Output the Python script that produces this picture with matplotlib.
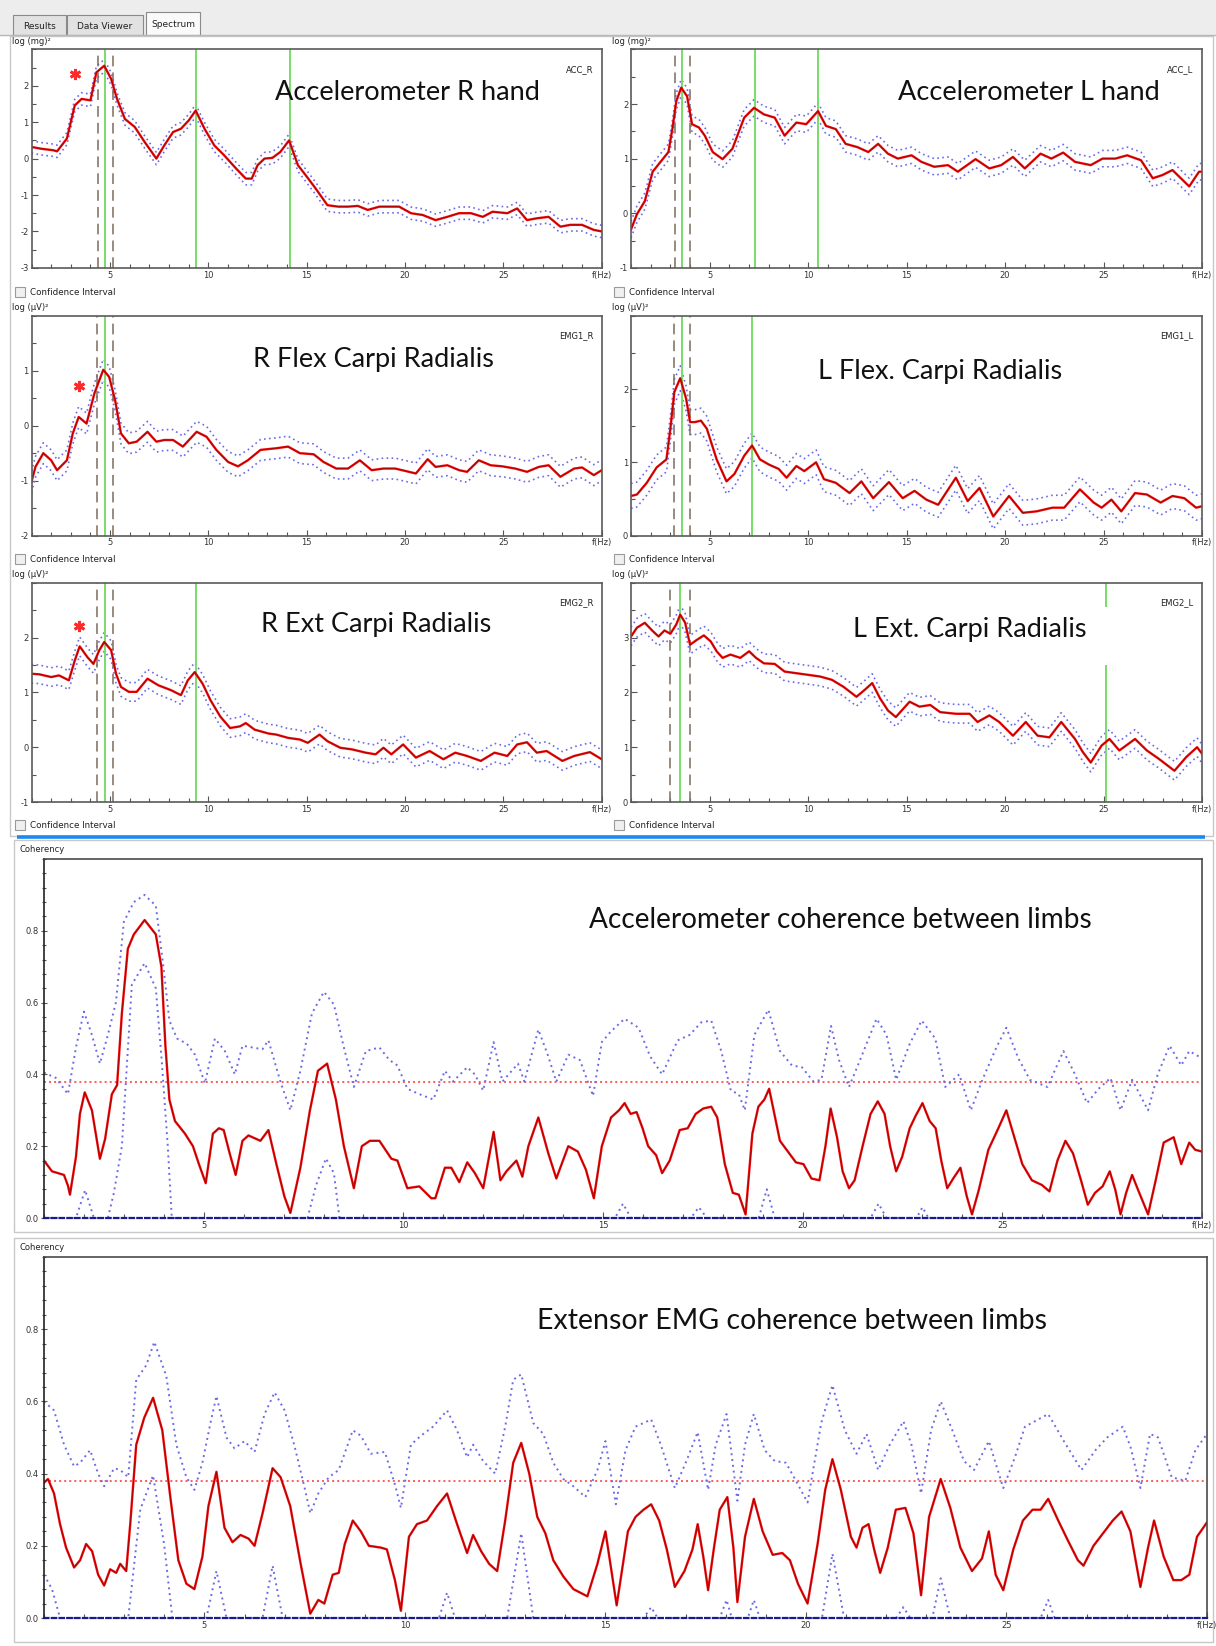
import numpy as np
import matplotlib
matplotlib.use('Agg')
import matplotlib.pyplot as plt
from matplotlib.patches import Rectangle
from matplotlib.ticker import MultipleLocator

plt.rcParams['axes.unicode_minus'] = False

W, H = 1216, 1646

# ---------------- spectra: (frequency Hz, log power)
acc_r = [(1.0, 0.32), (1.5, 0.27), (2.1, 0.23), (2.3, 0.2), (2.8, 0.55), (3.2, 1.46), (3.55, 1.64),
         (4.0, 1.6), (4.3, 2.37), (4.7, 2.55), (5.05, 2.19), (5.35, 1.64), (5.75, 1.09), (6.25, 0.87),
         (6.75, 0.46), (7.35, 0.0), (7.75, 0.36), (8.2, 0.73), (8.6, 0.82), (9.0, 1.05), (9.35, 1.32),
         (9.8, 0.82), (10.3, 0.36), (10.8, 0.09), (11.4, -0.27), (11.9, -0.55), (12.2, -0.55),
         (12.5, -0.18), (12.85, 0.0), (13.25, 0.02), (13.65, 0.18), (14.1, 0.5), (14.55, -0.18),
         (14.95, -0.46), (15.45, -0.82), (16.05, -1.28), (16.6, -1.32), (17.1, -1.32), (17.6, -1.3),
         (18.1, -1.41), (18.7, -1.32), (19.2, -1.32), (19.7, -1.32), (20.3, -1.5), (20.9, -1.55),
         (21.55, -1.69), (22.15, -1.6), (22.75, -1.5), (23.35, -1.5), (23.95, -1.6), (24.45, -1.46),
         (25.2, -1.5), (25.7, -1.37), (26.2, -1.69), (26.7, -1.64), (27.3, -1.6), (27.9, -1.87),
         (28.4, -1.82), (29.0, -1.82), (29.6, -1.96), (30.0, -2.0)]
acc_l = [(1.0, -0.3), (1.3, -0.02), (1.7, 0.22), (2.1, 0.76), (2.5, 0.94), (2.9, 1.12), (3.1, 1.54),
         (3.3, 2.05), (3.55, 2.3), (3.85, 2.14), (4.1, 1.63), (4.45, 1.57), (4.75, 1.42), (5.15, 1.12),
         (5.65, 0.99), (6.15, 1.18), (6.75, 1.75), (7.25, 1.93), (7.75, 1.81), (8.3, 1.75), (8.8, 1.42),
         (9.4, 1.66), (9.9, 1.63), (10.5, 1.87), (10.9, 1.6), (11.4, 1.54), (11.9, 1.27), (12.5, 1.21),
         (13.05, 1.12), (13.55, 1.27), (14.05, 1.09), (14.55, 1.0), (15.25, 1.06), (15.75, 0.94),
         (16.4, 0.85), (17.1, 0.88), (17.6, 0.76), (18.5, 0.99), (19.2, 0.82), (19.8, 0.88),
         (20.4, 1.03), (21.0, 0.82), (21.8, 1.09), (22.35, 1.0), (22.95, 1.11), (23.55, 0.94),
         (24.35, 0.88), (24.95, 1.0), (25.6, 1.0), (26.2, 1.06), (26.9, 0.97), (27.5, 0.64),
         (28.0, 0.7), (28.5, 0.79), (29.35, 0.49), (29.85, 0.76), (30.0, 0.76)]
emg1_r = [(1.0, -1.02), (1.2, -0.75), (1.6, -0.5), (2.0, -0.63), (2.3, -0.81), (2.8, -0.63),
          (3.1, -0.14), (3.4, 0.16), (3.8, 0.04), (4.2, 0.59), (4.65, 1.02), (4.95, 0.89), (5.25, 0.47),
          (5.55, -0.14), (5.95, -0.32), (6.35, -0.29), (6.9, -0.11), (7.35, -0.29), (7.75, -0.26),
          (8.2, -0.26), (8.7, -0.38), (9.4, -0.11), (9.9, -0.2), (10.4, -0.44), (11.0, -0.66),
          (11.5, -0.74), (12.0, -0.63), (12.65, -0.44), (13.45, -0.41), (14.05, -0.38), (14.65, -0.5),
          (15.35, -0.52), (15.85, -0.66), (16.5, -0.78), (17.1, -0.78), (17.7, -0.63), (18.3, -0.81),
          (18.9, -0.78), (19.5, -0.78), (20.55, -0.87), (21.15, -0.61), (21.55, -0.75), (22.15, -0.72),
          (22.75, -0.81), (23.15, -0.84), (23.75, -0.63), (24.35, -0.72), (24.95, -0.74), (25.6, -0.78),
          (26.2, -0.84), (26.8, -0.75), (27.3, -0.72), (27.9, -0.93), (28.6, -0.78), (29.0, -0.76),
          (29.6, -0.9), (30.0, -0.81)]
emg1_l = [(1.0, 0.54), (1.3, 0.56), (1.8, 0.72), (2.3, 0.93), (2.8, 1.04), (3.0, 1.46), (3.2, 1.96),
          (3.5, 2.15), (3.8, 1.87), (4.0, 1.55), (4.25, 1.55), (4.55, 1.57), (4.85, 1.46), (5.35, 1.04),
          (5.85, 0.74), (6.25, 0.84), (6.75, 1.09), (7.15, 1.23), (7.55, 1.04), (8.0, 0.97), (8.5, 0.91),
          (8.9, 0.79), (9.4, 0.95), (9.8, 0.88), (10.4, 1.0), (10.8, 0.77), (11.4, 0.72), (12.1, 0.58),
          (12.7, 0.74), (13.3, 0.51), (14.1, 0.73), (14.8, 0.51), (15.4, 0.61), (16.0, 0.49),
          (16.6, 0.42), (17.5, 0.79), (18.1, 0.47), (18.7, 0.65), (19.4, 0.26), (20.2, 0.54),
          (20.9, 0.31), (21.6, 0.33), (22.4, 0.38), (23.0, 0.38), (23.8, 0.63), (24.5, 0.45),
          (24.9, 0.38), (25.4, 0.49), (25.9, 0.33), (26.6, 0.58), (27.2, 0.56), (27.9, 0.45),
          (28.5, 0.54), (29.1, 0.51), (29.7, 0.38), (30.0, 0.4)]
emg2_r = [(1.0, 1.34), (1.4, 1.33), (2.0, 1.28), (2.4, 1.31), (2.9, 1.22), (3.2, 1.58), (3.45, 1.84),
          (3.85, 1.64), (4.15, 1.52), (4.45, 1.77), (4.7, 1.92), (5.05, 1.77), (5.3, 1.34), (5.55, 1.1),
          (5.95, 1.01), (6.35, 1.01), (6.9, 1.25), (7.45, 1.13), (8.1, 1.04), (8.6, 0.95), (8.95, 1.22),
          (9.3, 1.37), (9.7, 1.16), (10.1, 0.86), (10.6, 0.56), (11.1, 0.35), (11.6, 0.38), (11.9, 0.44),
          (12.35, 0.32), (13.05, 0.25), (13.45, 0.23), (14.05, 0.17), (14.65, 0.14), (15.05, 0.08),
          (15.65, 0.23), (16.05, 0.11), (16.7, -0.01), (17.3, -0.04), (18.0, -0.1), (18.5, -0.13),
          (18.9, -0.01), (19.3, -0.13), (19.9, 0.05), (20.55, -0.19), (21.25, -0.07), (21.95, -0.22),
          (22.55, -0.1), (23.15, -0.16), (23.85, -0.25), (24.55, -0.1), (25.2, -0.16), (25.7, 0.05),
          (26.2, 0.09), (26.7, -0.1), (27.2, -0.07), (28.0, -0.25), (28.6, -0.16), (29.4, -0.09),
          (30.0, -0.22)]
emg2_l = [(1.0, 3.02), (1.3, 3.18), (1.7, 3.27), (2.1, 3.12), (2.4, 3.02), (2.7, 3.13), (3.0, 3.07),
          (3.3, 3.24), (3.5, 3.42), (3.75, 3.27), (4.0, 2.87), (4.35, 2.96), (4.7, 3.04), (5.05, 2.93),
          (5.35, 2.75), (5.65, 2.63), (6.05, 2.69), (6.55, 2.63), (7.0, 2.75), (7.35, 2.63), (7.75, 2.53),
          (8.3, 2.52), (8.8, 2.38), (9.4, 2.35), (10.0, 2.32), (10.6, 2.29), (11.2, 2.23), (11.8, 2.1),
          (12.45, 1.92), (12.85, 2.04), (13.25, 2.17), (13.65, 1.89), (14.05, 1.67), (14.45, 1.55),
          (14.85, 1.71), (15.15, 1.83), (15.65, 1.74), (16.2, 1.77), (16.7, 1.64), (17.5, 1.61),
          (18.2, 1.61), (18.6, 1.46), (19.2, 1.58), (19.7, 1.46), (20.4, 1.21), (21.05, 1.46),
          (21.65, 1.21), (22.25, 1.18), (22.85, 1.46), (23.55, 1.15), (23.95, 0.91), (24.35, 0.72),
          (24.9, 1.03), (25.3, 1.15), (25.8, 0.94), (26.6, 1.15), (27.2, 0.94), (27.8, 0.79),
          (28.6, 0.57), (29.2, 0.82), (29.75, 1.0), (30.0, 0.88)]

# half-width of the confidence band (log units)
acc_r_ci, acc_l_ci = 0.17, 0.15
emg1_r_ci, emg1_l_ci = 0.19, 0.17
emg2_r_ci, emg2_l_ci = 0.17, 0.17

# peak (green) and band-edge (dashed) frequencies
acc_r_peaks, acc_r_band = [4.73, 9.38, 14.14], [4.36, 5.16]
acc_l_peaks, acc_l_band = [3.6, 7.3, 10.5], [3.24, 3.98]
emg1_r_peaks, emg1_r_band = [4.73], [4.33, 5.16]
emg1_l_peaks, emg1_l_band = [3.6, 7.14], [3.2, 4.0]
emg2_r_peaks, emg2_r_band = [4.73, 9.38], [4.33, 5.16]
emg2_l_peaks, emg2_l_band = [3.5, 25.1], [2.97, 4.0]
emg2_l_gap = {25.1: (2.5, 3.55)}   # part of that marker hidden in the screenshot

# red asterisks
acc_r_star, emg1_r_star, emg2_r_star = (3.22, 2.33), (3.42, 0.72), (3.42, 2.22)

# ---------------- coherence between limbs
coh_acc = [(1.0, 0.16), (1.2, 0.13), (1.35, 0.125), (1.5, 0.12), (1.6, 0.09), (1.65, 0.065), (1.8, 0.17),
           (1.9, 0.29), (2.02, 0.35), (2.2, 0.30), (2.4, 0.165), (2.53, 0.22), (2.7, 0.345), (2.83, 0.37),
           (2.95, 0.57), (3.1, 0.75), (3.25, 0.79), (3.52, 0.83), (3.8, 0.79), (3.94, 0.70), (4.04, 0.48),
           (4.14, 0.33), (4.28, 0.27), (4.53, 0.235), (4.73, 0.20), (4.88, 0.15), (5.05, 0.097),
           (5.23, 0.235), (5.38, 0.25), (5.5, 0.245), (5.65, 0.18), (5.8, 0.12), (5.97, 0.215),
           (6.12, 0.23), (6.42, 0.215), (6.62, 0.245), (6.82, 0.15), (7.02, 0.06), (7.17, 0.014),
           (7.42, 0.14), (7.66, 0.30), (7.86, 0.41), (8.09, 0.43), (8.31, 0.33), (8.51, 0.20),
           (8.76, 0.083), (8.96, 0.20), (9.16, 0.215), (9.4, 0.215), (9.7, 0.165), (9.85, 0.16),
           (10.1, 0.083), (10.4, 0.088), (10.7, 0.055), (10.8, 0.055), (11.04, 0.14), (11.2, 0.14),
           (11.4, 0.10), (11.6, 0.155), (11.79, 0.125), (12.0, 0.083), (12.26, 0.24), (12.43, 0.105),
           (12.58, 0.13), (12.83, 0.16), (12.98, 0.115), (13.13, 0.20), (13.38, 0.28), (13.63, 0.18),
           (13.83, 0.11), (14.13, 0.20), (14.37, 0.185), (14.57, 0.135), (14.77, 0.055), (14.97, 0.20),
           (15.2, 0.28), (15.4, 0.30), (15.54, 0.32), (15.69, 0.29), (15.84, 0.295), (15.99, 0.25),
           (16.13, 0.20), (16.33, 0.175), (16.48, 0.125), (16.67, 0.16), (16.92, 0.245), (17.12, 0.25),
           (17.32, 0.29), (17.51, 0.305), (17.71, 0.31), (17.86, 0.28), (18.05, 0.15), (18.25, 0.07),
           (18.4, 0.065), (18.57, 0.01), (18.74, 0.235), (18.89, 0.31), (19.04, 0.33), (19.16, 0.36),
           (19.29, 0.29), (19.43, 0.215), (19.63, 0.185), (19.83, 0.155), (20.02, 0.15), (20.22, 0.11),
           (20.42, 0.105), (20.57, 0.20), (20.7, 0.305), (20.86, 0.225), (21.0, 0.13), (21.16, 0.083),
           (21.3, 0.105), (21.5, 0.20), (21.7, 0.29), (21.88, 0.325), (22.05, 0.29), (22.19, 0.20),
           (22.34, 0.13), (22.49, 0.17), (22.68, 0.25), (22.83, 0.285), (23.0, 0.32), (23.18, 0.27),
           (23.33, 0.25), (23.47, 0.16), (23.62, 0.083), (23.77, 0.11), (23.95, 0.14), (24.11, 0.06),
           (24.24, 0.01), (24.41, 0.078), (24.65, 0.19), (24.9, 0.25), (25.1, 0.30), (25.3, 0.225),
           (25.5, 0.15), (25.74, 0.105), (25.99, 0.092), (26.18, 0.074), (26.38, 0.16), (26.58, 0.215),
           (26.77, 0.18), (26.97, 0.105), (27.14, 0.037), (27.32, 0.07), (27.51, 0.088), (27.69, 0.13),
           (27.83, 0.078), (27.96, 0.01), (28.1, 0.07), (28.25, 0.12), (28.4, 0.078), (28.65, 0.01),
           (28.84, 0.105), (29.04, 0.21), (29.29, 0.225), (29.48, 0.15), (29.68, 0.21), (29.83, 0.19),
           (30.0, 0.185)]
coh_acc_hi = [(1.0, 0.405), (1.3, 0.39), (1.6, 0.345), (1.8, 0.475), (2.0, 0.575), (2.2, 0.51), (2.4, 0.43),
              (2.6, 0.51), (2.8, 0.60), (3.0, 0.825), (3.25, 0.88), (3.52, 0.90), (3.8, 0.87), (3.99, 0.70),
              (4.14, 0.55), (4.33, 0.50), (4.58, 0.485), (4.78, 0.455), (5.03, 0.375), (5.28, 0.50),
              (5.53, 0.465), (5.78, 0.40), (5.97, 0.48), (6.22, 0.475), (6.47, 0.47), (6.62, 0.495),
              (6.92, 0.38), (7.17, 0.30), (7.42, 0.41), (7.71, 0.57), (8.01, 0.63), (8.26, 0.595),
              (8.51, 0.475), (8.76, 0.365), (9.06, 0.465), (9.4, 0.475), (9.65, 0.44), (9.85, 0.425),
              (10.1, 0.36), (10.4, 0.345), (10.75, 0.33), (11.04, 0.41), (11.24, 0.38), (11.6, 0.42),
              (11.79, 0.40), (12.0, 0.355), (12.26, 0.49), (12.48, 0.38), (12.87, 0.43), (13.03, 0.38),
              (13.38, 0.525), (13.63, 0.45), (13.83, 0.38), (14.13, 0.455), (14.42, 0.44), (14.75, 0.34),
              (14.97, 0.49), (15.2, 0.52), (15.54, 0.555), (15.89, 0.53), (16.18, 0.45), (16.48, 0.40),
              (16.87, 0.495), (17.17, 0.51), (17.46, 0.545), (17.71, 0.55), (17.96, 0.465), (18.2, 0.355),
              (18.4, 0.345), (18.55, 0.30), (18.79, 0.51), (19.14, 0.58), (19.43, 0.465), (19.73, 0.425),
              (19.98, 0.42), (20.27, 0.38), (20.47, 0.385), (20.71, 0.535), (20.91, 0.44), (21.16, 0.365),
              (21.4, 0.43), (21.85, 0.555), (22.1, 0.51), (22.34, 0.385), (22.68, 0.485), (22.98, 0.55),
              (23.32, 0.50), (23.57, 0.365), (23.92, 0.40), (24.21, 0.30), (24.5, 0.385), (24.85, 0.475),
              (25.1, 0.53), (25.4, 0.445), (25.69, 0.385), (26.13, 0.365), (26.53, 0.465), (26.82, 0.40),
              (27.12, 0.32), (27.41, 0.36), (27.71, 0.39), (27.96, 0.30), (28.25, 0.385), (28.65, 0.30),
              (28.89, 0.40), (29.19, 0.48), (29.48, 0.425), (29.68, 0.465), (30.0, 0.445)]
coh_acc_lo = [(1.0, 0.0), (1.8, 0.0), (2.03, 0.078), (2.25, 0.0), (2.6, 0.0), (2.75, 0.07), (2.95, 0.20),
              (3.2, 0.65), (3.52, 0.71), (3.8, 0.64), (3.94, 0.45), (4.1, 0.20), (4.2, 0.0), (7.6, 0.0),
              (7.81, 0.09), (8.06, 0.166), (8.26, 0.125), (8.4, 0.0), (15.3, 0.0), (15.5, 0.04), (15.7, 0.0),
              (17.2, 0.0), (17.4, 0.03), (17.6, 0.0), (18.9, 0.0), (19.1, 0.08), (19.3, 0.0), (21.7, 0.0),
              (21.9, 0.04), (22.1, 0.0), (22.85, 0.0), (23.0, 0.03), (23.15, 0.0), (30.0, 0.0)]

coh_ext = [(1.0, 0.375), (1.1, 0.385), (1.25, 0.345), (1.4, 0.26), (1.55, 0.195), (1.75, 0.14), (1.9, 0.16),
           (2.05, 0.205), (2.2, 0.185), (2.35, 0.12), (2.5, 0.09), (2.65, 0.135), (2.8, 0.125), (2.9, 0.15),
           (3.05, 0.13), (3.15, 0.26), (3.3, 0.48), (3.5, 0.555), (3.72, 0.61), (3.95, 0.52), (4.15, 0.335),
           (4.35, 0.16), (4.55, 0.095), (4.75, 0.08), (4.95, 0.17), (5.1, 0.31), (5.3, 0.405), (5.5, 0.25),
           (5.7, 0.21), (5.9, 0.23), (6.1, 0.22), (6.25, 0.20), (6.45, 0.29), (6.7, 0.415), (6.9, 0.39),
           (7.14, 0.31), (7.4, 0.15), (7.64, 0.012), (7.84, 0.05), (7.99, 0.04), (8.2, 0.12), (8.35, 0.125),
           (8.5, 0.205), (8.7, 0.27), (8.9, 0.24), (9.1, 0.20), (9.4, 0.195), (9.55, 0.19), (9.75, 0.105),
           (9.9, 0.02), (10.1, 0.225), (10.3, 0.26), (10.55, 0.27), (10.8, 0.31), (11.05, 0.345),
           (11.3, 0.26), (11.55, 0.18), (11.7, 0.23), (11.9, 0.185), (12.1, 0.15), (12.3, 0.13),
           (12.5, 0.27), (12.7, 0.43), (12.9, 0.485), (13.1, 0.40), (13.3, 0.28), (13.5, 0.235),
           (13.7, 0.16), (13.95, 0.115), (14.2, 0.08), (14.55, 0.06), (14.8, 0.15), (15.0, 0.24),
           (15.15, 0.13), (15.28, 0.035), (15.56, 0.24), (15.75, 0.28), (15.95, 0.30), (16.14, 0.315),
           (16.34, 0.27), (16.53, 0.19), (16.73, 0.086), (16.97, 0.13), (17.17, 0.19), (17.3, 0.26),
           (17.44, 0.17), (17.56, 0.077), (17.7, 0.19), (17.85, 0.30), (18.04, 0.335), (18.19, 0.195),
           (18.29, 0.044), (18.48, 0.225), (18.7, 0.33), (18.92, 0.24), (19.17, 0.175), (19.41, 0.18),
           (19.6, 0.16), (19.8, 0.095), (20.04, 0.04), (20.29, 0.205), (20.48, 0.355), (20.66, 0.44),
           (20.87, 0.355), (21.12, 0.225), (21.26, 0.195), (21.41, 0.25), (21.56, 0.26), (21.7, 0.19),
           (21.85, 0.125), (22.04, 0.195), (22.24, 0.30), (22.48, 0.305), (22.68, 0.235), (22.87, 0.063),
           (23.07, 0.28), (23.36, 0.385), (23.6, 0.305), (23.85, 0.195), (24.14, 0.13), (24.39, 0.165),
           (24.56, 0.24), (24.73, 0.12), (24.92, 0.077), (25.17, 0.19), (25.41, 0.27), (25.65, 0.30),
           (25.85, 0.30), (26.04, 0.33), (26.29, 0.27), (26.53, 0.215), (26.78, 0.16), (26.92, 0.145),
           (27.17, 0.20), (27.41, 0.235), (27.65, 0.27), (27.87, 0.295), (28.09, 0.24), (28.34, 0.086),
           (28.53, 0.195), (28.68, 0.27), (28.92, 0.17), (29.16, 0.105), (29.36, 0.105), (29.56, 0.12),
           (29.75, 0.225), (30.0, 0.265)]
coh_ext_hi = [(1.0, 0.60), (1.25, 0.575), (1.5, 0.48), (1.75, 0.42), (1.9, 0.43), (2.15, 0.465), (2.35, 0.40),
              (2.5, 0.365), (2.75, 0.415), (2.9, 0.41), (3.1, 0.39), (3.3, 0.66), (3.55, 0.70), (3.75, 0.765),
              (4.05, 0.67), (4.3, 0.48), (4.55, 0.39), (4.75, 0.355), (4.95, 0.43), (5.15, 0.54), (5.3, 0.615),
              (5.55, 0.50), (5.75, 0.47), (6.0, 0.49), (6.25, 0.46), (6.5, 0.565), (6.75, 0.625), (7.0, 0.575),
              (7.25, 0.475), (7.5, 0.36), (7.64, 0.29), (7.84, 0.345), (8.1, 0.39), (8.35, 0.41), (8.7, 0.52),
              (8.9, 0.505), (9.15, 0.455), (9.5, 0.46), (9.75, 0.37), (9.9, 0.305), (10.15, 0.48),
              (10.4, 0.505), (10.7, 0.53), (11.05, 0.575), (11.3, 0.52), (11.55, 0.445), (11.7, 0.48),
              (11.95, 0.435), (12.25, 0.40), (12.5, 0.53), (12.7, 0.66), (12.9, 0.675), (13.2, 0.54),
              (13.45, 0.51), (13.7, 0.43), (13.95, 0.385), (14.2, 0.365), (14.5, 0.335), (14.8, 0.41),
              (15.0, 0.49), (15.26, 0.315), (15.5, 0.465), (15.75, 0.53), (16.14, 0.55), (16.38, 0.48),
              (16.73, 0.36), (17.02, 0.435), (17.3, 0.515), (17.56, 0.355), (17.75, 0.48), (18.02, 0.565),
              (18.29, 0.325), (18.48, 0.48), (18.7, 0.565), (18.97, 0.465), (19.22, 0.435), (19.5, 0.43),
              (19.8, 0.37), (20.04, 0.32), (20.38, 0.54), (20.66, 0.645), (20.97, 0.52), (21.26, 0.455),
              (21.51, 0.51), (21.8, 0.41), (22.09, 0.48), (22.43, 0.545), (22.63, 0.48), (22.87, 0.345),
              (23.12, 0.52), (23.36, 0.60), (23.65, 0.52), (23.94, 0.435), (24.19, 0.41), (24.56, 0.49),
              (24.92, 0.36), (25.21, 0.445), (25.46, 0.53), (26.04, 0.565), (26.43, 0.49), (26.87, 0.41),
              (27.22, 0.465), (27.51, 0.50), (27.9, 0.53), (28.09, 0.475), (28.34, 0.36), (28.58, 0.51),
              (28.78, 0.50), (29.12, 0.39), (29.46, 0.38), (29.71, 0.465), (30.0, 0.51)]
coh_ext_lo = [(1.0, 0.12), (1.2, 0.08), (1.4, 0.0), (3.1, 0.0), (3.2, 0.10), (3.4, 0.30), (3.72, 0.395),
              (4.0, 0.20), (4.2, 0.0), (5.05, 0.0), (5.3, 0.13), (5.55, 0.0), (6.45, 0.0), (6.7, 0.145),
              (6.95, 0.0), (10.85, 0.0), (11.05, 0.07), (11.25, 0.0), (12.55, 0.0), (12.9, 0.235), (13.2, 0.0),
              (15.95, 0.0), (16.14, 0.03), (16.3, 0.0), (17.85, 0.0), (18.02, 0.05), (18.15, 0.0), (18.55, 0.0),
              (18.7, 0.05), (18.85, 0.0), (20.4, 0.0), (20.66, 0.178), (20.95, 0.0), (22.25, 0.0), (22.43, 0.03),
              (22.6, 0.0), (23.15, 0.0), (23.36, 0.11), (23.6, 0.0), (25.85, 0.0), (26.04, 0.05), (26.2, 0.0),
              (30.0, 0.0)]
coh_threshold = 0.38

RED, DARK = '#ee0a0a', '#7a0000'
CIBLUE = '#6b6be8'
GREEN = '#79dc6a'
DASH = '#7d6c5a'
TICKC = '#333333'
TITLE_FONT = ['Lato', 'DejaVu Sans']

fig = plt.figure(figsize=(W / 100, H / 100), dpi=100)
fig.patch.set_facecolor('white')


def frac(l, t, r, b):
    return [l / W, 1 - b / H, (r - l) / W, (b - t) / H]


# background decorations in pixel coordinates
bg = fig.add_axes([0, 0, 1, 1], zorder=-5)
bg.set_xlim(0, W)
bg.set_ylim(H, 0)
bg.axis('off')
bg.add_patch(Rectangle((0, 0), W, 35, color='#ededed'))
bg.plot([0, W], [35, 35], color='#b8b8b8', lw=1)
for x0, x1, lab, active in [(13, 66, 'Results', False), (67, 143, 'Data Viewer', False),
                            (146, 200, 'Spectrum', True)]:
    top = 12 if active else 15
    bg.add_patch(Rectangle((x0, top), x1 - x0, 35 - top, facecolor='#fafafa' if active else '#e2e2e2',
                           edgecolor='#8a8a8a', lw=0.8))
    bg.text((x0 + x1) / 2, (top + 35) / 2 + 1, lab, ha='center', va='center', fontsize=6.5, color='#222')
bg.add_patch(Rectangle((10, 36), 1203, 800, facecolor='none', edgecolor='#c8c8c8', lw=1))
bg.add_patch(Rectangle((14, 840), 1199, 392, facecolor='none', edgecolor='#c8c8c8', lw=1))
bg.add_patch(Rectangle((14, 1238), 1199, 404, facecolor='none', edgecolor='#c8c8c8', lw=1))
bg.plot([17, 1205], [837, 837], color='#1e88f0', lw=2.6, solid_capstyle='butt')
for cy in [292, 559, 825]:
    for cx in [15, 614]:
        bg.add_patch(Rectangle((cx, cy - 5), 10, 10, facecolor='#f0f0f0', edgecolor='#9a9a9a', lw=0.8))
        bg.text(cx + 15, cy, 'Confidence Interval', va='center', fontsize=6.3, color='#222')


def style_ticks(ax):
    ax.tick_params(which='both', direction='in', colors='#555', labelcolor=TICKC, labelsize=6,
                   top=False, right=False, pad=2)
    ax.tick_params(which='major', length=4, width=0.8)
    ax.tick_params(which='minor', length=3, width=0.8)
    ax.set_xlim(1, 30)
    ax.set_xticks([5, 10, 15, 20, 25, 30])
    ax.set_xticklabels(['5', '10', '15', '20', '25', 'f(Hz)'])
    ax.xaxis.set_minor_locator(MultipleLocator(1))


def draw_curve(ax, f, v):
    ax.plot(f, v, color=RED, lw=1.7)
    ax.plot(f, v, color=DARK, lw=0.45, alpha=0.8)


def spectrum(box, data, ci, ylim, ylab, chan, peaks, band, star=None, gaps=None):
    ax = fig.add_axes(frac(*box))
    f, v = np.array(data).T
    ax.plot(f, v + ci, ls=(0, (1, 2)), color=CIBLUE, lw=1.2)
    ax.plot(f, v - ci, ls=(0, (1, 2)), color=CIBLUE, lw=1.2)
    for p in band:
        ax.axvline(p, color=DASH, lw=1.1, ls=(0, (7, 4)))
    for p in peaks:
        if gaps and p in gaps:
            ax.vlines(p, ylim[0], gaps[p][0], color=GREEN, lw=1.4)
            ax.vlines(p, gaps[p][1], ylim[1], color=GREEN, lw=1.4)
        else:
            ax.axvline(p, color=GREEN, lw=1.4)
    draw_curve(ax, f, v)
    if star:
        ax.plot(*star, marker=(6, 2, 0), color='#ff2a2a', ms=8, mew=2.0)
    ax.set_ylim(*ylim)
    ax.set_yticks(np.arange(ylim[0], ylim[1]))
    ax.yaxis.set_minor_locator(MultipleLocator(0.5))
    style_ticks(ax)
    for s in ax.spines.values():
        s.set_color('#5a5a5a')
        s.set_linewidth(1.2)
    ax.text(0.985, 0.93, chan, transform=ax.transAxes, ha='right', va='top', fontsize=6, color='#222')
    fig.text((box[0] - 19) / W, 1 - (box[1] - 8) / H, ylab, fontsize=6, color='#222', va='center')
    return ax


L_BOX = [(31.5, 49.4, 601.7, 267.8), (31.5, 316, 601.7, 535.5), (31.5, 582.8, 601.7, 802)]
R_BOX = [(631, 49.4, 1202, 267.8), (631, 316, 1202, 535.5), (631, 582.8, 1202, 802)]

spectrum(L_BOX[0], acc_r, acc_r_ci, (-3, 3), 'log (mg)²', 'ACC_R', acc_r_peaks, acc_r_band, acc_r_star)
spectrum(R_BOX[0], acc_l, acc_l_ci, (-1, 3), 'log (mg)²', 'ACC_L', acc_l_peaks, acc_l_band)
spectrum(L_BOX[1], emg1_r, emg1_r_ci, (-2, 2), 'log (μV)²', 'EMG1_R', emg1_r_peaks, emg1_r_band, emg1_r_star)
spectrum(R_BOX[1], emg1_l, emg1_l_ci, (0, 3), 'log (μV)²', 'EMG1_L', emg1_l_peaks, emg1_l_band)
spectrum(L_BOX[2], emg2_r, emg2_r_ci, (-1, 3), 'log (μV)²', 'EMG2_R', emg2_r_peaks, emg2_r_band, emg2_r_star)
spectrum(R_BOX[2], emg2_l, emg2_l_ci, (0, 4), 'log (μV)²', 'EMG2_L', emg2_l_peaks, emg2_l_band,
         gaps=emg2_l_gap)


def coherence(box, data, hi, lo):
    ax = fig.add_axes(frac(*box))
    f, v = np.array(data).T
    fh, vh = np.array(hi).T
    fl, vl = np.array(lo).T
    ax.axhline(coh_threshold, color='#ff5a5a', ls=(0, (1, 1.6)), lw=1.4)
    ax.plot(fh, vh, ls=(0, (1, 2)), color=CIBLUE, lw=1.4)
    ax.plot(fl, vl, ls=(0, (1, 2)), color=CIBLUE, lw=1.4, clip_on=False)
    draw_curve(ax, f, v)
    ax.set_ylim(0, 1)
    ax.set_yticks([0, 0.2, 0.4, 0.6, 0.8])
    ax.set_yticklabels(['0.0', '0.2', '0.4', '0.6', '0.8'])
    ax.yaxis.set_minor_locator(MultipleLocator(0.04))
    style_ticks(ax)
    ax.tick_params(axis='y', which='both', direction='inout')
    for s in ax.spines.values():
        s.set_color('#4a4a4a')
        s.set_linewidth(1.2)
    ax.spines['left'].set_color('#222')
    ax.spines['bottom'].set_color('#1a1a90')
    ax.spines['bottom'].set_linestyle((0, (2, 1.5)))
    ax.spines['bottom'].set_linewidth(1.6)
    fig.text(19 / W, 1 - (box[1] - 10) / H, 'Coherency', fontsize=6, color='#222', va='center')
    return ax


coherence((44, 859, 1202, 1218), coh_acc, coh_acc_hi, coh_acc_lo)
coherence((44, 1257, 1207, 1618), coh_ext, coh_ext_hi, coh_ext_lo)

# overlaid panel titles (pixel centre positions)
for x, y, s, fs in [(407, 92, 'Accelerometer R hand', 19.5), (1029, 92, 'Accelerometer L hand', 19.5),
                    (373, 360, 'R Flex Carpi Radialis', 19.5), (940, 371, 'L Flex. Carpi Radialis', 19.5),
                    (376, 624, 'R Ext Carpi Radialis', 19.5), (970, 630, 'L Ext. Carpi Radialis', 19.5),
                    (840, 920, 'Accelerometer coherence between limbs', 20.2),
                    (792, 1321, 'Extensor EMG coherence between limbs', 20.5)]:
    fig.text(x / W, 1 - y / H, s, ha='center', va='center', fontsize=fs, family=TITLE_FONT, color='#111')

fig.savefig('out.png', dpi=100, facecolor=fig.get_facecolor())
